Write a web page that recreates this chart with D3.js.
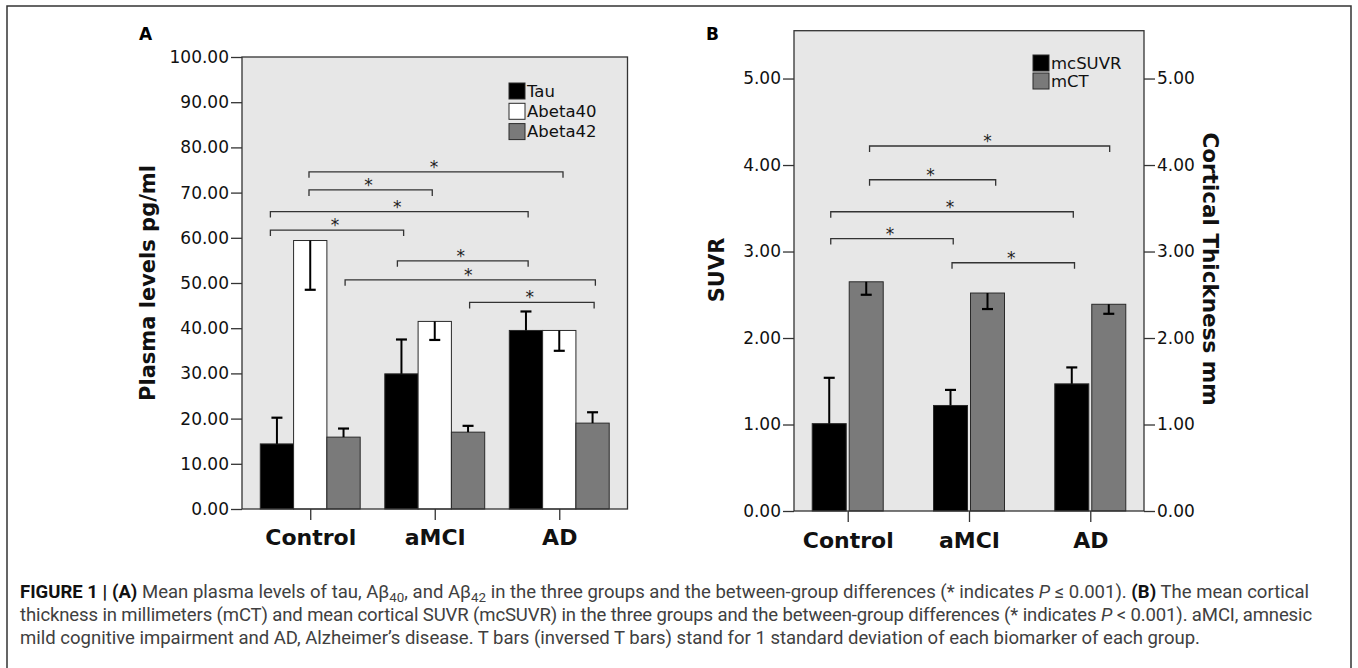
<!DOCTYPE html>
<html><head><meta charset="utf-8">
<script src="https://cdn.jsdelivr.net/npm/d3@7"></script>
<style>body{margin:0;background:#fff} svg{display:block}</style>
</head><body>
<svg id="c" width="1358" height="668"></svg>
<script>
// ---------- data ----------
const groups = ["Control", "aMCI", "AD"];

// Panel A
const seriesA = ["Tau", "Abeta40", "Abeta42"];
const tauMean  = [14.4, 29.9, 39.5];
const tauSD    = [5.8, 7.6, 4.2];
const ab40Mean = [59.4, 41.5, 39.5];
const ab40SD   = [10.9, 4.1, 4.5];
const ab42Mean = [15.9, 17.0, 19.0];
const ab42SD   = [1.9, 1.4, 2.4];
const ticksA   = [0, 10, 20, 30, 40, 50, 60, 70, 80, 90, 100];
// brackets: x in category units (0 = Control, 1 = aMCI, 2 = AD), y in pg/ml
const bracketsA = [
  {x1: -0.01, x2: 2.03, y: 74.6},
  {x1: -0.01, x2: 0.98, y: 70.6},
  {x1: -0.32, x2: 1.75, y: 65.8},
  {x1: -0.32, x2: 0.75, y: 61.7},
  {x1:  0.70, x2: 1.75, y: 54.9},
  {x1:  0.28, x2: 2.29, y: 50.7},
  {x1:  1.28, x2: 2.28, y: 45.7}
];

// Panel B
const seriesB  = ["mcSUVR", "mCT"];
const suvrMean = [1.01, 1.22, 1.47];
const suvrSD   = [0.53, 0.18, 0.19];
const ctMean   = [2.65, 2.52, 2.39];
const ctSD     = [0.15, 0.185, 0.11];
const ticksB   = [0, 1, 2, 3, 4, 5];
const bracketsB = [
  {x1:  0.18, x2: 2.16, y: 4.22},
  {x1:  0.18, x2: 1.22, y: 3.83},
  {x1: -0.14, x2: 1.86, y: 3.46},
  {x1: -0.14, x2: 0.87, y: 3.15},
  {x1:  0.86, x2: 1.87, y: 2.87}
];

// ---------- drawing ----------
const svg = d3.select("#c");
svg.append("rect").attr("width", 1358).attr("height", 668).attr("fill", "#fff");

// outer frame
svg.append("path")
  .attr("d", "M7,668 V6 H1351 V668")
  .attr("fill", "none").attr("stroke", "#333").attr("stroke-width", 1.5);

const FONT = "'DejaVu Sans', sans-serif";
const BG = "#e7e7e7", GRAY = "#7a7a7a", EDGE = "#2a2a2a";

function panel(o) {
  const g = svg.append("g");
  const y = d3.scaleLinear().domain(o.yDomain).range([o.yBot, o.yTop]);
  const x = d3.scalePoint().domain(groups).range([o.x0, o.x1]).padding(o.pad);
  const xu = d3.scaleLinear().domain([0, 1]).range([x(groups[0]), x(groups[1])]);

  // plot background
  g.append("rect").attr("x", o.x0).attr("y", o.yTop)
    .attr("width", o.x1 - o.x0).attr("height", o.yBot - o.yTop)
    .attr("fill", BG);

  // bars
  const n = o.series.length;
  const groupW = n * o.barW + (n - 1) * o.gap;
  o.series.forEach((s, i) => {
    const data = groups.map((grp, k) => ({grp, m: s.mean[k], sd: s.sd[k]}));
    const left = d => x(d.grp) - groupW / 2 + i * (o.barW + o.gap);
    g.selectAll(null).data(data).enter().append("rect")
      .attr("x", d => left(d)).attr("y", d => y(d.m))
      .attr("width", o.barW).attr("height", d => y(0) - y(d.m))
      .attr("fill", s.color).attr("stroke", EDGE).attr("stroke-width", 1);
    // error bars
    const cx = d => left(d) + o.barW / 2;
    const yEnd = d => y(d.m + s.dir * d.sd);
    g.selectAll(null).data(data).enter().append("line")
      .attr("x1", cx).attr("x2", cx)
      .attr("y1", d => y(d.m)).attr("y2", yEnd)
      .attr("stroke", "#000").attr("stroke-width", 2);
    g.selectAll(null).data(data).enter().append("line")
      .attr("x1", d => cx(d) - 5.5).attr("x2", d => cx(d) + 5.5)
      .attr("y1", yEnd).attr("y2", yEnd)
      .attr("stroke", "#000").attr("stroke-width", 2.2);
  });

  // significance brackets
  const br = g.selectAll(null).data(o.brackets).enter().append("g");
  br.append("path")
    .attr("d", d => `M${xu(d.x1)},${y(d.y) + 6} V${y(d.y)} H${xu(d.x2)} V${y(d.y) + 6}`)
    .attr("fill", "none").attr("stroke", "#333").attr("stroke-width", 1.3);
  br.append("text")
    .attr("x", d => (xu(d.x1) + xu(d.x2)) / 2 - 2)
    .attr("y", d => y(d.y) + 1)
    .attr("text-anchor", "middle")
    .attr("font-family", FONT).attr("font-size", 17).attr("fill", "#222")
    .text("*");

  // box
  g.append("rect").attr("x", o.x0).attr("y", o.yTop)
    .attr("width", o.x1 - o.x0).attr("height", o.yBot - o.yTop)
    .attr("fill", "none").attr("stroke", "#333").attr("stroke-width", 1.3);

  // axes
  const styleAxis = (sel, fs, bold) => {
    sel.select(".domain").remove();
    sel.selectAll(".tick line").attr("stroke", "#333").attr("stroke-width", 1.3);
    sel.selectAll(".tick text").attr("font-family", FONT).attr("font-size", fs)
      .attr("font-weight", bold ? "bold" : "normal").attr("fill", "#111");
  };
  g.append("g").attr("transform", `translate(${o.x0},0)`)
    .call(d3.axisLeft(y).tickValues(o.ticks).tickFormat(d3.format(".2f")).tickSize(11).tickPadding(2))
    .call(s => styleAxis(s, 17, false));
  if (o.rightAxis) {
    g.append("g").attr("transform", `translate(${o.x1},0)`)
      .call(d3.axisRight(y).tickValues(o.ticks).tickFormat(d3.format(".2f")).tickSize(11).tickPadding(2))
      .call(s => styleAxis(s, 17, false));
  }
  g.append("g").attr("transform", `translate(0,${o.yBot})`)
    .call(d3.axisBottom(x).tickSize(11).tickPadding(o.xPad))
    .call(s => styleAxis(s, 22, true));

  // axis titles
  g.append("text")
    .attr("transform", `translate(${o.yTitleX},${o.yTitleY}) rotate(-90)`)
    .attr("text-anchor", "middle").attr("dominant-baseline", "central")
    .attr("font-family", FONT).attr("font-weight", "bold").attr("font-size", 21)
    .attr("fill", "#111").text(o.yTitle);
  if (o.rTitle) {
    g.append("text")
      .attr("transform", `translate(${o.rTitleX},${o.rTitleY}) rotate(90)`)
      .attr("text-anchor", "middle").attr("dominant-baseline", "central")
      .attr("font-family", FONT).attr("font-weight", "bold").attr("font-size", 21.5)
      .attr("fill", "#111").text(o.rTitle);
  }

  // legend
  const lg = g.selectAll(null).data(o.series).enter().append("g")
    .attr("transform", (d, i) => `translate(${o.legX},${o.legY + i * o.legStep})`);
  lg.append("rect").attr("x", 0).attr("y", -o.legSw / 2)
    .attr("width", o.legSw).attr("height", o.legSw)
    .attr("fill", d => d.color).attr("stroke", EDGE).attr("stroke-width", 1);
  lg.append("text").attr("x", o.legSw + 2).attr("y", 0)
    .attr("dominant-baseline", "central")
    .attr("font-family", FONT).attr("font-size", 16.5).attr("fill", "#111")
    .text(d => d.name);

  // panel letter
  g.append("text").attr("x", o.letterX).attr("y", 40)
    .attr("font-family", FONT).attr("font-weight", "bold").attr("font-size", 17)
    .attr("fill", "#000").text(o.letter);
}

panel({
  letter: "A", letterX: 139,
  x0: 242, x1: 627.5, yTop: 57, yBot: 509, yDomain: [0, 100], pad: 0.548,
  ticks: ticksA, barW: 33.3, gap: 0, xPad: 9,
  series: [
    {name: seriesA[0], mean: tauMean,  sd: tauSD,  color: "#000", dir: 1},
    {name: seriesA[1], mean: ab40Mean, sd: ab40SD, color: "#fff", dir: -1},
    {name: seriesA[2], mean: ab42Mean, sd: ab42SD, color: GRAY,  dir: 1}
  ],
  brackets: bracketsA,
  yTitle: "Plasma levels pg/ml", yTitleX: 148, yTitleY: 283,
  legX: 509, legY: 91, legStep: 20.3, legSw: 16
});

panel({
  letter: "B", letterX: 706,
  x0: 794, x1: 1144, yTop: 30.7, yBot: 511, yDomain: [0, 5.553], pad: 0.443,
  ticks: ticksB, barW: 34, gap: 3, xPad: 10, rightAxis: true,
  series: [
    {name: seriesB[0], mean: suvrMean, sd: suvrSD, color: "#000", dir: 1},
    {name: seriesB[1], mean: ctMean,   sd: ctSD,   color: GRAY,  dir: -1}
  ],
  brackets: bracketsB,
  yTitle: "SUVR", yTitleX: 717, yTitleY: 270,
  rTitle: "Cortical Thickness mm", rTitleX: 1210, rTitleY: 269,
  legX: 1033, legY: 63, legStep: 18, legSw: 16
});

// ---------- caption ----------
const CAP = "Roboto, 'Liberation Sans', sans-serif";
const capLines = [
  [["b","FIGURE 1 | (A)"],["n"," Mean plasma levels of tau, Aβ"],["s","40"],["n",", and Aβ"],["s","42"],
   ["n"," in the three groups and the between-group differences (* indicates "],["i","P"],["n"," ≤ 0.001). "],
   ["b","(B)"],["n"," The mean cortical"]],
  [["n","thickness in millimeters (mCT) and mean cortical SUVR (mcSUVR) in the three groups and the between-group differences (* indicates "],
   ["i","P"],["n"," < 0.001). aMCI, amnesic"]],
  [["n","mild cognitive impairment and AD, Alzheimer’s disease. T bars (inversed T bars) stand for 1 standard deviation of each biomarker of each group."]]
];
const capBase = [598, 621, 644];
const capWidth = [1289, 1292, 1180];
const capTexts = capLines.map((parts, li) => {
  const t = svg.append("text").attr("x", 20).attr("y", capBase[li])
    .attr("font-family", CAP).attr("font-size", 16).attr("fill", "#404040");
  let sub = false;
  parts.forEach(([k, s]) => {
    const ts = t.append("tspan").text(s);
    if (k === "b") ts.attr("font-weight", "bold").attr("fill", "#111");
    if (k === "i") ts.attr("font-style", "italic");
    if (k === "s") { ts.attr("font-size", "0.72em").attr("dy", 4); sub = true; }
    else if (sub) { ts.attr("dy", -4); sub = false; }
  });
  return t;
});
// scale caption font so the first line spans the measured width,
// then fine-tune each line with letter spacing
const w0 = capTexts[0].node().getComputedTextLength();
const fs = 16 * capWidth[0] / w0;
capTexts.forEach((t, i) => {
  t.attr("font-size", fs);
  const w = t.node().getComputedTextLength();
  const nch = t.text().length;
  t.attr("letter-spacing", (capWidth[i] - w) / nch);
});
</script>
</body></html>
